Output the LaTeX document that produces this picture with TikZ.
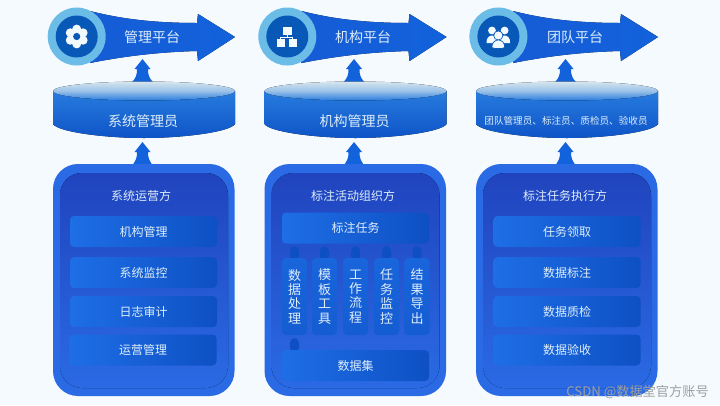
\documentclass[tikz,border=0pt]{standalone}
\usepackage{fontspec}
\setmainfont{Noto Sans CJK SC}
\usetikzlibrary{arrows.meta,positioning,calc}
\definecolor{pagebg}{RGB}{244,250,254}
\definecolor{arrblue}{RGB}{18,98,220}
\definecolor{arrdark}{RGB}{14,84,200}
\definecolor{ringblue}{RGB}{108,188,232}
\definecolor{icondisc}{RGB}{8,88,184}
\definecolor{panblue}{RGB}{42,106,228}
\definecolor{pantop}{RGB}{32,68,190}
\definecolor{rowlt}{RGB}{30,110,230}
\definecolor{rowdk}{RGB}{14,80,196}
\definecolor{lidlt}{RGB}{214,230,238}
\definecolor{lidblue}{RGB}{40,124,222}
\definecolor{txtpale}{RGB}{222,238,250}
\tikzset{
  plat/.style={left color=arrblue!80!pantop, right color=arrblue},
  ring/.style={circle, fill=ringblue, minimum size=58pt, inner sep=0pt},
  disc/.style={circle, fill=icondisc, minimum size=42pt, inner sep=0pt},
  upar/.style={fill=arrblue},
  drum/.style={top color=lidblue, bottom color=arrdark},
  lid/.style={top color=lidlt, bottom color=lidblue, middle color=lidlt!65!lidblue},
  pan/.style={fill=panblue, rounded corners=25pt},
  panin/.style={top color=pantop, middle color=arrblue!90!pantop, bottom color=panblue, rounded corners=22pt},
  rowbox/.style={left color=rowlt, right color=rowdk, rounded corners=4pt,
                 minimum width=147pt, minimum height=31pt, inner sep=0pt},
  colbox/.style={top color=rowlt!70!rowdk, bottom color=rowlt!40!rowdk, rounded corners=4pt,
                 minimum width=25pt, minimum height=77pt, inner sep=0pt},
  lab/.style={font=\fontsize{12}{14}\selectfont, text=txtpale, inner sep=0pt},
  bigl/.style={font=\fontsize{14}{16}\selectfont, text=txtpale, inner sep=0pt},
  sml/.style={font=\fontsize{9.6}{12}\selectfont, text=txtpale, inner sep=0pt},
  vlab/.style={font=\fontsize{13}{14.4}\selectfont, text=txtpale, inner sep=0pt, align=center},
  nub/.style={fill=rowdk, rounded corners=2pt},
  icn/.style={fill=white!92!ringblue},
}
\begin{document}
\begin{tikzpicture}[x=1pt, y=-1pt]
  \fill[pagebg] (0,0) rectangle (720,405);
  % the three columns share arrow, drum and panel
  \foreach \dx in {0,211.5,423}{
    \begin{scope}[xshift=\dx pt]
      \fill[plat] (90,11) .. controls (125,20) and (160,23) .. (197,23) -- (198,14)
        -- (235,37) -- (198,61) -- (197,51) .. controls (160,52) and (125,56) .. (90,63) -- cycle;
      % small arrow, drum to platform
      \fill[upar] (132,82) .. controls (136,78) and (137,75) .. (137,69) -- (134.5,69) -- (142.5,59)
        -- (150.5,69) -- (148,69) .. controls (148,75) and (149,78) .. (153,82) -- cycle;
      % drum
      \fill[drum] (53,91) -- (53,124) .. controls (58,132) and (105,138) .. (144,138)
        .. controls (183,138) and (230,132) .. (235,124) -- (235,91) -- cycle;
      \fill[lid] (144,91) ellipse [x radius=91, y radius=9.5];
      % small arrow, panel to drum
      \fill[upar] (132,166) .. controls (136,160) and (137,158) .. (137,152) -- (134.5,152) -- (142.5,142)
        -- (150.5,152) -- (148,152) .. controls (148,158) and (149,160) .. (153,166) -- cycle;
      % panel
      \fill[pan] (53,164) rectangle (234.5,396);
      \fill[panin] (60,173) rectangle (228,388);
    \end{scope}
  }
  \node[ring] (ringa) at (76.7,36.5) {};
  \node[ring] (ringb) at (287.3,36.5) {};
  \node[ring] (ringc) at (498.4,36.5) {};
  \node[disc] (disca) at (ringa) {};
  \node[disc] (discb) at (ringb) {};
  \node[disc] (discc) at (ringc) {};
  % gear
  \foreach \ang in {0,60,...,300}
    \fill[icn] (disca) ++(\ang+30:7.4) circle (4.5);
  \fill[icn] (disca) circle (8.5);
  \fill[icondisc] (disca) circle (3.6);
  % org chart
  \fill[icn] (282.5,26.5) rectangle (291.5,35);
  \fill[icn] (276.5,39) rectangle (285,47);
  \fill[icn] (288.5,39) rectangle (297,47);
  \draw[draw=white, line width=.8pt] (287,35) -- (287,37.2) -- (280.7,37.2) -- (280.7,39);
  \draw[draw=white, line width=.8pt] (287,37.2) -- (292.7,37.2) -- (292.7,39);
  % people
  \foreach \px in {492,504.6}{
    \fill[icn] (\px,30.5) circle (3.9);
    \fill[icn] (\px-5.5,43) .. controls (\px-6,33) and (\px+6,33) .. (\px+5.5,43) -- cycle;
  }
  \fill[icn, draw=icondisc, line width=.7pt] (498.3,35.5) circle (4.6);
  \fill[icn, draw=icondisc, line width=.7pt] (491.8,47.5) .. controls (491.8,37.5) and (504.8,37.5) .. (504.8,47.5)
    .. controls (502,49) and (494.5,49) .. (491.8,47.5) -- cycle;
  % platform names
  \node[bigl] (pa) at (152,37) {管理平台};
  \node[bigl] (pb) at (363,37) {机构平台};
  \node[bigl] (pc) at (575,37) {团队平台};
  % roles
  \node[bigl] (ra) at (143,121) {系统管理员};
  \node[bigl] (rb) at (354.5,121) {机构管理员};
  \node[sml] (rc) at (566,121) {团队管理员、标注员、质检员、验收员};
  % first column
  \node[lab] (ta) at (141,196) {系统运营方};
  \node[rowbox] (a1) at (143.5,231.5) {};
  \node[rowbox] (a2) at (143.5,272.5) {};
  \node[rowbox] (a3) at (143.5,311.5) {};
  \node[rowbox] (a4) at (143,350) {};
  \node[lab] at (a1) {机构管理};
  \node[lab] at (a2) {系统监控};
  \node[lab] at (a3) {日志审计};
  \node[lab] at (a4) {运营管理};
  % second column
  \node[lab] (tb) at (353,196) {标注活动组织方};
  \node[rowbox] (task) at (355.5,228) {};
  \node[lab] at (task) {标注任务};
  \foreach \cx/\nm/\one/\two/\thr/\fou in {294.5/k1/数/据/处/理,324.5/k2/模/板/工/具,355.5/k3/工/作/流/程,386.5/k4/任/务/监/控,417/k5/结/果/导/出}{
    \fill[nub] (\cx,246) ++(-4.5,12) -- ++(0,-9) -- ++(4.5,-4) -- ++(4.5,4) -- ++(0,9) -- cycle;
    \node[colbox] (\nm) at (\cx,296.5) {};
    \node[vlab] at (\nm) {\one\\\two\\\thr\\\fou};
  }
  \fill[nub] (290,350) -- (290,341) -- (294.5,337) -- (299,341) -- (299,350) -- cycle;
  \node[rowbox] (data) at (355.5,365.5) {};
  \node[lab] at (data) {数据集};
  % third column
  \node[lab] (tc) at (565,196) {标注任务执行方};
  \node[rowbox] (c1) at (567,231.5) {};
  \node[rowbox] (c2) at (567,272.5) {};
  \node[rowbox] (c3) at (567,311.5) {};
  \node[rowbox] (c4) at (567,350) {};
  \node[lab] at (c1) {任务领取};
  \node[lab] at (c2) {数据标注};
  \node[lab] at (c3) {数据质检};
  \node[lab] at (c4) {数据验收};
  \node[font=\fontsize{13.2}{15}\selectfont, text=gray!75, inner sep=0pt] (mark) at (637.5,392) {CSDN @数据堂官方账号};
\end{tikzpicture}
\end{document}
